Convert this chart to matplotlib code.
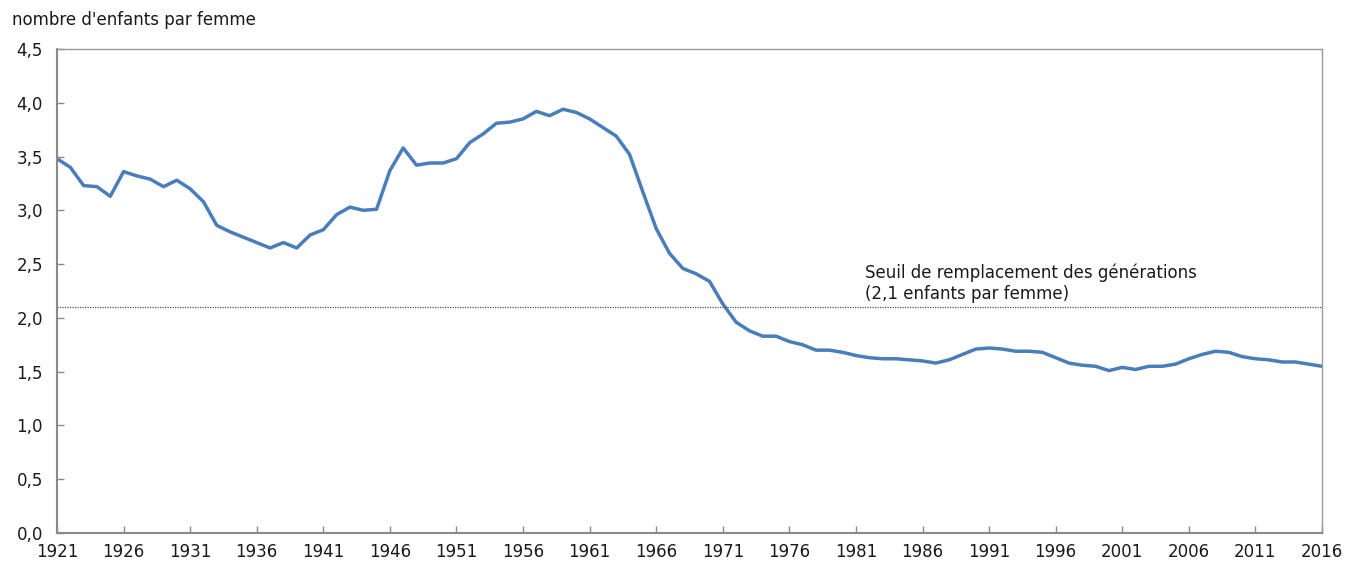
import matplotlib.pyplot as plt

years = list(range(1921, 2017))
fertility = [
    3.48, 3.40, 3.23, 3.22, 3.13, 3.36, 3.32, 3.29, 3.22, 3.28,  # 1921-1930
    3.20, 3.08, 2.86, 2.80, 2.75, 2.70, 2.65, 2.70, 2.65, 2.77,  # 1931-1940
    2.82, 2.96, 3.03, 3.00, 3.01, 3.37, 3.58, 3.42, 3.44, 3.44,  # 1941-1950
    3.48, 3.63, 3.71, 3.81, 3.82, 3.85, 3.92, 3.88, 3.94, 3.91,  # 1951-1960
    3.85, 3.77, 3.69, 3.52, 3.17, 2.83, 2.60, 2.46, 2.41, 2.34,  # 1961-1970
    2.13, 1.96, 1.88, 1.83, 1.83, 1.78, 1.75, 1.70, 1.70, 1.68,  # 1971-1980
    1.65, 1.63, 1.62, 1.62, 1.61, 1.60, 1.58, 1.61, 1.66, 1.71,  # 1981-1990
    1.72, 1.71, 1.69, 1.69, 1.68, 1.63, 1.58, 1.56, 1.55, 1.51,  # 1991-2000
    1.54, 1.52, 1.55, 1.55, 1.57, 1.62, 1.66, 1.69, 1.68, 1.64,  # 2001-2010
    1.62, 1.61, 1.59, 1.59, 1.57, 1.55,                          # 2011-2016
]
replacement = 2.1
x_ticks = list(range(1921, 2017, 5))
y_ticks = [0.0, 0.5, 1.0, 1.5, 2.0, 2.5, 3.0, 3.5, 4.0, 4.5]
y_labels = [f'{v:.1f}'.replace('.', ',') for v in y_ticks]

plt.rcParams['font.family'] = 'DejaVu Sans'
fig = plt.figure(figsize=(13.55, 5.64), dpi=100)
ax = fig.add_axes([57 / 1355, 1 - 533 / 564, (1322 - 57) / 1355, (533 - 49) / 564])

ax.plot(years, fertility, color='#4a7ebb', linewidth=2.5, solid_joinstyle='round')
ax.axhline(replacement, color='#555555', linewidth=0.9, linestyle=(0, (1, 1)))
ax.text(1981.7, replacement + 0.035, 'Seuil de remplacement des générations\n(2,1 enfants par femme)',
        fontsize=12, color='#1a1a1a', va='bottom', ha='left', linespacing=1.25)

ax.set_xlim(1921, 2016)
ax.set_ylim(0, 4.5)
ax.set_xticks(x_ticks)
ax.set_xticklabels([str(y) for y in x_ticks], fontsize=12, color='#1a1a1a')
ax.set_yticks(y_ticks)
ax.set_yticklabels(y_labels, fontsize=12, color='#1a1a1a')
ax.tick_params(direction='in', length=5, width=1, color='#8a8a8a')
ax.tick_params(axis='y', pad=10)
ax.tick_params(axis='x', pad=7)
for side in ['left', 'bottom']:
    ax.spines[side].set_color('#8a8a8a')
    ax.spines[side].set_linewidth(1.5)
for side in ['top', 'right']:
    ax.spines[side].set_color('#9a9a9a')
    ax.spines[side].set_linewidth(1)

fig.text(12 / 1355, 1 - 20 / 564, "nombre d'enfants par femme", fontsize=12,
         color='#1a1a1a', va='center', ha='left')

fig.savefig('out.png', dpi=100)
